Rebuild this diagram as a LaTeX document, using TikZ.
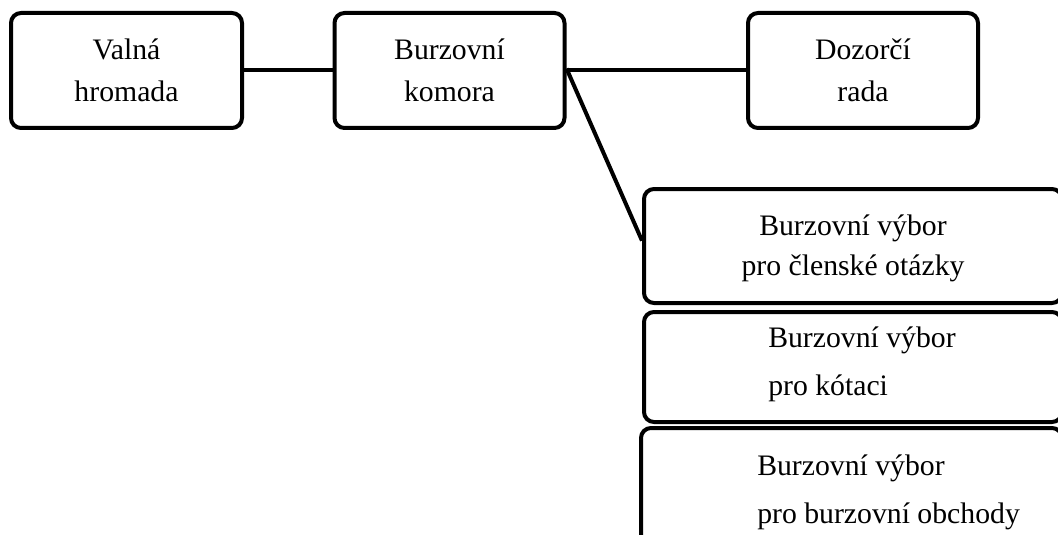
\documentclass[tikz,border=0pt]{standalone}
\usepackage{fontspec}
\setmainfont{Liberation Serif}
\begin{document}
\begin{tikzpicture}[x=0.75pt,y=-0.75pt,
  box/.style={draw=black,line width=3pt,rounded corners=7.5pt,inner sep=0pt,fill=white},
  conn/.style={draw=black,line width=3pt},
  txt/.style={inner sep=0pt,font=\fontsize{22.3}{27}\selectfont}]
\useasboundingbox (0,0) rectangle (1058,535);
\fill[white] (0,0) rectangle (1058,535);
\clip (0,0) rectangle (1058,535);
% boxes
\node[box,minimum width=173.25pt,minimum height=86.25pt] (b1) at (126.5,70.5) {};
\node[box,minimum width=172.5pt,minimum height=86.25pt] (b2) at (449.5,70.5) {};
\node[box,minimum width=172.5pt,minimum height=86.25pt] (b3) at (863,70.5) {};
\node[box,minimum width=313.5pt,minimum height=85.5pt] (b4) at (853,246) {};
\node[box,minimum width=313.5pt,minimum height=82.5pt] (b5) at (853,367) {};
\node[box,minimum width=315.75pt,minimum height=87.75pt] (b6) at (851.5,486.5) {};
% connectors
\draw[conn] (b1.east) -- (b2.west);
\draw[conn] (b2.east) -- (b3.west);
\draw[conn] ([yshift=1.5pt]b2.east) -- ([yshift=4pt]b4.west);
% texts
\node[txt,anchor=base] (t1a) at (126.5,60) {Valná};
\node[txt,anchor=base] (t1b) at (126.5,102) {hromada};
\node[txt,anchor=base] (t2a) at (449.5,60) {Burzovní};
\node[txt,anchor=base] (t2b) at (449.5,102) {komora};
\node[txt,anchor=base] (t3a) at (863,60) {Dozorčí};
\node[txt,anchor=base] (t3b) at (863,102) {rada};
\node[txt,anchor=base] (t4a) at (853,235) {Burzovní výbor};
\node[txt,anchor=base] (t4b) at (853,275) {pro členské otázky};
\node[txt,anchor=base west] (t5a) at (768,347) {Burzovní výbor};
\node[txt,anchor=base west] (t5b) at (768,395) {pro kótaci};
\node[txt,anchor=base west] (t6a) at (757,475) {Burzovní výbor};
\node[txt,anchor=base west] (t6b) at (757,523) {pro burzovní obchody};
\end{tikzpicture}
\end{document}
